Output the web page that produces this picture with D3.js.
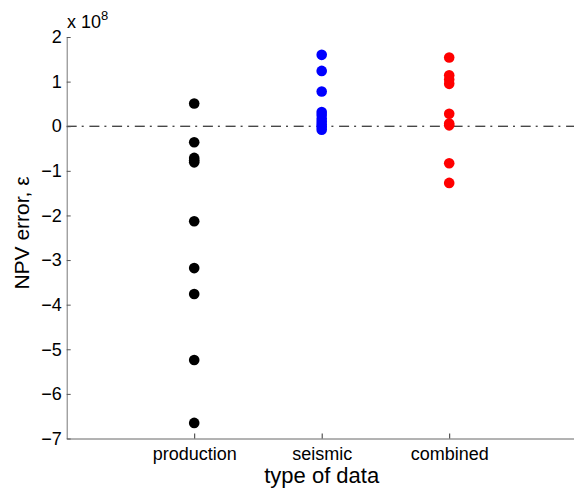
<!DOCTYPE html>
<html>
<head>
<meta charset="utf-8">
<script src="https://cdn.jsdelivr.net/npm/d3@7"></script>
<style>
  body { margin: 0; background: #fff; }
  svg { font-family: "Liberation Sans", Arial, sans-serif; }
</style>
</head>
<body>
<svg width="574" height="489"></svg>
<script>
// categories and values (x 10^8)
var categories = ["production", "seismic", "combined"];
var colors = ["#000000", "#0000ff", "#ff0000"];
var production = [0.51, -0.36, -0.71, -0.76, -0.81, -2.13, -3.18, -3.76, -5.24, -6.65];
var seismic = [1.60, 1.24, 0.78, 0.32, 0.25, 0.17, 0.10, 0.04, -0.02, -0.08];
var combined = [1.54, 1.14, 1.05, 0.95, 0.28, 0.06, 0.02, -0.83, -1.27];
var yTicks = [2, 1, 0, -1, -2, -3, -4, -5, -6, -7];

var series = [production, seismic, combined];

var svg = d3.select('svg');

var x = d3.scaleLinear()
    .domain([0, 4])
    .range([66.7, 576.7]);

var y = d3.scaleLinear()
    .domain([-7, 2])
    .range([438.5, 37]);

// zero line, dash-dot
svg.append('line')
    .attr('x1', x(0)).attr('x2', 574)
    .attr('y1', y(0)).attr('y2', y(0))
    .attr('stroke', '#000')
    .attr('stroke-width', 1)
    .attr('stroke-dasharray', '10,5,2,5.7');

// left axis
var yAxis = d3.axisLeft(y)
    .tickValues(yTicks)
    .tickSizeInner(-4)
    .tickSizeOuter(0)
    .tickPadding(5)
    .tickFormat(function(d) { return d < 0 ? '\u2212' + (-d) : d; });

var gy = svg.append('g')
    .attr('transform', 'translate(' + x(0) + ',0)')
    .call(yAxis);
gy.select('.domain').attr('stroke', '#777');
gy.selectAll('.tick line').attr('stroke', '#555');
gy.selectAll('.tick text')
    .attr('font-size', 18)
    .attr('font-family', '"Liberation Sans", Arial, sans-serif')
    .attr('fill', '#000');

// bottom axis
var xAxis = d3.axisBottom(x)
    .tickValues([1, 2, 3])
    .tickSizeInner(-5)
    .tickSizeOuter(0)
    .tickPadding(9)
    .tickFormat(function(d) { return categories[d - 1]; });

var gx = svg.append('g')
    .attr('transform', 'translate(0,' + y(-7) + ')')
    .call(xAxis);
gx.select('.domain').attr('stroke', '#666');
gx.selectAll('.tick line').attr('stroke', '#333');
gx.selectAll('.tick text')
    .attr('font-size', 18)
    .attr('font-family', '"Liberation Sans", Arial, sans-serif')
    .attr('fill', '#000');

// points
series.forEach(function(vals, i) {
  svg.append('g')
    .selectAll('circle')
    .data(vals)
    .enter()
    .append('circle')
    .attr('cx', x(i + 1))
    .attr('cy', function(d) { return y(d); })
    .attr('r', 5.3)
    .attr('fill', colors[i]);
});

// exponent label
var ex = svg.append('text')
    .attr('x', 67)
    .attr('y', 28)
    .attr('font-size', 18)
    .text('x 10');
ex.append('tspan')
    .attr('dy', -8)
    .attr('font-size', 13)
    .text('8');

// axis titles
svg.append('text')
    .attr('x', x(2))
    .attr('y', 483)
    .attr('text-anchor', 'middle')
    .attr('font-size', 22)
    .text('type of data');

svg.append('text')
    .attr('transform', 'translate(29,233) rotate(-90)')
    .attr('text-anchor', 'middle')
    .attr('font-size', 21)
    .text('NPV error, \u03b5');
</script>
</body>
</html>
